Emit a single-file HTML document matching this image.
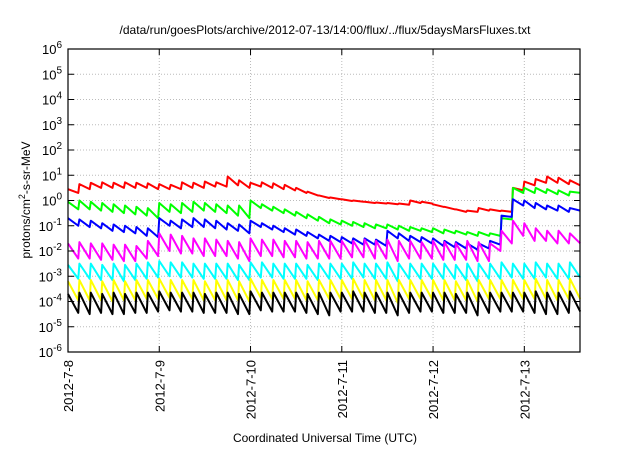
<!DOCTYPE html>
<html><head><meta charset="utf-8"><style>
body{margin:0;background:#fff;width:640px;height:448px;overflow:hidden;font-family:"Liberation Sans",sans-serif}
</style></head><body>
<svg id="chart" width="640" height="448" xmlns="http://www.w3.org/2000/svg" font-family="Liberation Sans, sans-serif">
<text x="325" y="34" font-size="12" text-anchor="middle">/data/run/goesPlots/archive/2012-07-13/14:00/flux/../flux/5daysMarsFluxes.txt</text>
<g id="grid"></g><g id="series"></g><g id="axes"></g>
<text x="325" y="442" font-size="12" text-anchor="middle">Coordinated Universal Time (UTC)</text>
<text transform="translate(30,200) rotate(-90)" font-size="12" text-anchor="middle">protons/cm<tspan dy="-5" font-size="9">2</tspan><tspan dy="5">-s-sr-MeV</tspan></text>
</svg>
<script>
const dayLabels=["2012-7-8","2012-7-9","2012-7-10","2012-7-11","2012-7-12","2012-7-13"];
const yExps=[-6,-5,-4,-3,-2,-1,0,1,2,3,4,5,6];
const toothDays=0.125;
const colors=["#ff0000","#00ff00","#0000ff","#ff00ff","#00ffff","#ffff00","#000000"];
const redPeaks=[0.45,0.65,0.7,0.72,0.7,0.72,0.7,0.68,0.65,0.62,0.72,0.7,0.75,0.72,0.95,0.8,0.7,0.72,0.68,0.62,0.5,0.35,0.2,0.12,0.05,0.0,-0.05,-0.08,-0.1,-0.12,0.0,-0.05,-0.15,-0.25,-0.35,-0.4,-0.3,-0.35,-0.4,0.5,0.75,0.85,0.95,0.9,0.8];
const redTroughs=[0.3,0.45,0.5,0.5,0.5,0.5,0.5,0.45,0.45,0.45,0.5,0.5,0.55,0.55,0.6,0.5,0.55,0.5,0.45,0.4,0.3,0.2,0.1,0.05,-0.02,-0.05,-0.1,-0.12,-0.15,-0.17,-0.1,-0.12,-0.25,-0.35,-0.45,-0.45,-0.4,-0.42,-0.45,0.4,0.6,0.7,0.7,0.65,0.6];
const greenPeaks=[-0.05,0.0,-0.05,-0.1,-0.15,-0.2,-0.25,-0.3,-0.1,-0.15,-0.1,-0.05,-0.1,-0.15,-0.2,-0.2,0.0,-0.15,-0.25,-0.35,-0.45,-0.55,-0.65,-0.75,-0.8,-0.85,-0.9,-0.95,-0.95,-1.0,-1.05,-1.1,-1.1,-1.15,-1.2,-1.25,-1.25,-1.3,-0.7,0.5,0.5,0.5,0.45,0.4,0.35];
const greenTroughs=[-0.35,-0.35,-0.4,-0.45,-0.5,-0.55,-0.6,-0.7,-0.45,-0.5,-0.45,-0.4,-0.45,-0.5,-0.6,-0.7,-0.3,-0.4,-0.5,-0.6,-0.7,-0.8,-0.9,-0.95,-1.0,-1.05,-1.1,-1.1,-1.15,-1.2,-1.2,-1.25,-1.3,-1.3,-1.35,-1.4,-1.4,-1.4,-0.75,0.3,0.3,0.3,0.25,0.2,0.3];
const bluePeaks=[-0.7,-0.75,-0.8,-0.9,-0.95,-1.0,-1.05,-1.1,-0.7,-0.8,-0.75,-0.7,-0.75,-0.8,-0.9,-0.95,-0.8,-0.9,-1.0,-1.1,-1.15,-1.25,-1.35,-1.4,-1.45,-1.5,-1.5,-1.55,-1.2,-1.3,-1.4,-1.45,-1.5,-1.6,-1.65,-1.7,-1.7,-1.6,-0.6,0.05,0.0,-0.1,-0.2,-0.2,-0.3];
const blueTroughs=[-1.0,-1.05,-1.1,-1.2,-1.25,-1.3,-1.4,-1.45,-1.0,-1.1,-1.05,-1.05,-1.1,-1.15,-1.2,-1.3,-1.05,-1.15,-1.25,-1.35,-1.4,-1.5,-1.6,-1.65,-1.7,-1.75,-1.75,-1.8,-1.5,-1.6,-1.65,-1.7,-1.8,-1.85,-1.9,-1.95,-1.9,-1.75,-0.65,-0.2,-0.3,-0.35,-0.4,-0.45,-0.4];
const magentaPeaks=[-1.7,-1.65,-1.7,-1.7,-1.75,-1.75,-1.8,-1.6,-1.3,-1.35,-1.4,-1.5,-1.5,-1.55,-1.6,-1.65,-1.5,-1.55,-1.55,-1.6,-1.6,-1.65,-1.6,-1.6,-1.6,-1.6,-1.55,-1.6,-1.55,-1.6,-1.6,-1.65,-1.6,-1.65,-1.7,-1.6,-1.65,-1.7,-1.2,-0.8,-0.9,-1.1,-1.2,-1.2,-1.3];
const magentaTroughs=[-2.3,-2.3,-2.35,-2.35,-2.4,-2.4,-2.3,-2.2,-2.0,-2.1,-2.1,-2.2,-2.2,-2.2,-2.3,-2.4,-2.2,-2.2,-2.25,-2.25,-2.3,-2.3,-2.3,-2.3,-2.25,-2.25,-2.3,-2.3,-2.4,-2.3,-2.3,-2.3,-2.35,-2.35,-2.35,-2.4,-2.4,-2.0,-1.7,-1.4,-1.6,-1.6,-1.7,-1.7,-1.7];
const cyanPeaks=[-2.55,-2.5,-2.5,-2.55,-2.5,-2.55,-2.5,-2.45,-2.4,-2.45,-2.45,-2.5,-2.5,-2.5,-2.5,-2.55,-2.45,-2.45,-2.5,-2.5,-2.5,-2.55,-2.5,-2.5,-2.5,-2.45,-2.5,-2.5,-2.45,-2.5,-2.5,-2.5,-2.5,-2.5,-2.55,-2.5,-2.5,-2.5,-2.45,-2.5,-2.5,-2.45,-2.5,-2.5,-2.45];
const cyanTroughs=[-3.1,-3.1,-3.15,-3.15,-3.2,-3.15,-3.1,-3.05,-3.0,-3.05,-3.05,-3.1,-3.1,-3.1,-3.15,-3.15,-3.05,-3.05,-3.1,-3.1,-3.1,-3.15,-3.1,-3.1,-3.1,-3.05,-3.1,-3.1,-3.2,-3.1,-3.1,-3.1,-3.1,-3.1,-3.15,-3.2,-3.1,-3.1,-3.05,-3.1,-3.1,-3.05,-3.1,-3.1,-3.05];
const yellowPeaks=[-3.2,-3.15,-3.15,-3.2,-3.15,-3.2,-3.15,-3.15,-3.1,-3.15,-3.15,-3.15,-3.2,-3.15,-3.15,-3.2,-3.1,-3.15,-3.15,-3.15,-3.15,-3.2,-3.15,-3.15,-3.15,-3.1,-3.15,-3.15,-3.15,-3.15,-3.15,-3.15,-3.15,-3.15,-3.2,-3.15,-3.15,-3.15,-3.15,-3.15,-3.15,-3.1,-3.15,-3.15,-3.1];
const yellowTroughs=[-3.95,-3.95,-3.95,-4.0,-3.95,-3.95,-3.9,-3.9,-3.85,-3.9,-3.9,-3.95,-3.95,-3.95,-3.95,-4.0,-3.85,-3.9,-3.9,-3.9,-3.95,-3.95,-3.9,-3.9,-3.9,-3.9,-3.95,-3.95,-4.05,-3.9,-3.9,-3.9,-3.95,-3.95,-3.95,-4.0,-3.9,-3.9,-3.9,-3.9,-3.9,-3.9,-3.95,-3.9,-3.9];
const blackPeaks=[-3.7,-3.65,-3.65,-3.7,-3.65,-3.7,-3.65,-3.65,-3.6,-3.65,-3.65,-3.65,-3.7,-3.65,-3.65,-3.7,-3.6,-3.65,-3.65,-3.65,-3.65,-3.7,-3.65,-3.65,-3.65,-3.6,-3.65,-3.65,-3.65,-3.65,-3.65,-3.65,-3.65,-3.65,-3.7,-3.65,-3.65,-3.65,-3.65,-3.65,-3.65,-3.6,-3.65,-3.65,-3.6];
const blackTroughs=[-4.45,-4.5,-4.45,-4.5,-4.5,-4.45,-4.45,-4.4,-4.35,-4.4,-4.4,-4.45,-4.45,-4.45,-4.5,-4.5,-4.35,-4.4,-4.4,-4.4,-4.45,-4.5,-4.55,-4.4,-4.4,-4.4,-4.45,-4.45,-4.55,-4.45,-4.4,-4.4,-4.45,-4.45,-4.45,-4.55,-4.45,-4.4,-4.4,-4.4,-4.45,-4.5,-4.5,-4.45,-4.4];
const seriesPeaks=[redPeaks,greenPeaks,bluePeaks,magentaPeaks,cyanPeaks,yellowPeaks,blackPeaks];
const seriesTroughs=[redTroughs,greenTroughs,blueTroughs,magentaTroughs,cyanTroughs,yellowTroughs,blackTroughs];
const seriesNames=["red","green","blue","magenta","cyan","yellow","black"];

const L=68,R=580,T=49,B=352,xMax=5.61;
const xs=t=>L+t*(R-L)/xMax;
const ys=v=>T+(6-v)*(B-T)/12;
const NS="http://www.w3.org/2000/svg";
function mk(tag,attrs,parent){const e=document.createElementNS(NS,tag);for(const k in attrs)e.setAttribute(k,attrs[k]);parent.appendChild(e);return e;}
const grid=document.getElementById('grid'),axes=document.getElementById('axes'),ser=document.getElementById('series');
yExps.forEach(e=>{
  const y=ys(e);
  if(e>-6&&e<6){const g=mk('line',{x1:L,x2:R,y1:y,y2:y,stroke:'#bbb','stroke-dasharray':'1,2','stroke-width':1},grid);
  
  }
  const tk=mk('path',{d:`M${L},${y}h6M${R},${y}h-6`,stroke:'#000','stroke-width':1},axes);
  
  
  const tx=mk('text',{x:L-6,y:y+5,'font-size':13,'text-anchor':'end'},axes);
  
  
  tx.innerHTML=`10<tspan dy="-6" font-size="10">${e}</tspan>`;
});
dayLabels.forEach((lab,i)=>{
  const x=xs(i);
  if(i>0){const g=mk('line',{x1:x,x2:x,y1:T,y2:B,stroke:'#bbb','stroke-dasharray':'1,2','stroke-width':1},grid);
  
  }
  const tk=mk('path',{d:`M${x},${B}v-6M${x},${T}v6`,stroke:'#000','stroke-width':1},axes);
  
  
  const tx=mk('text',{transform:`translate(${x+5},${B+8}) rotate(-90)`,'font-size':13,'text-anchor':'end'},axes);
  
  
  tx.textContent=lab;
});
const frame=mk('rect',{x:L,y:T,width:R-L,height:B-T,fill:'none',stroke:'#000','stroke-width':1.2},axes);


seriesPeaks.forEach((pk,si)=>{
  const tr=seriesTroughs[si];const pts=[];
  pk.forEach((p,k)=>{const t0=k*toothDays;pts.push(xs(t0)+','+ys(p));pts.push(xs(t0+toothDays*0.9)+','+ys(tr[k]));});
  const pl=mk('polyline',{points:pts.join(' '),fill:'none',stroke:colors[si],'stroke-width':2,'stroke-linejoin':'round'},ser);
  
  
});
</script>
</body></html>
